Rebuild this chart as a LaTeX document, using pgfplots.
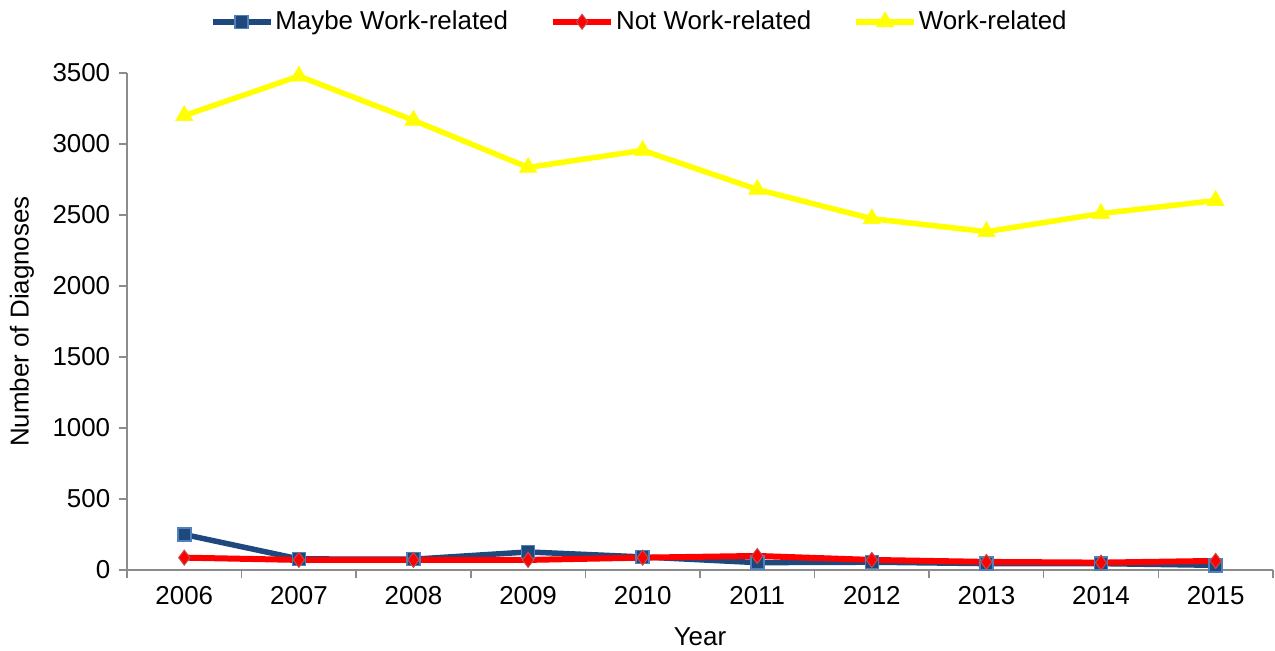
\documentclass[border=0pt]{standalone}
\usepackage{pgfplots}
\pgfplotsset{compat=1.18}
\usepackage{fontspec}
\setmainfont{Liberation Sans}
\definecolor{navy}{HTML}{1F497D}
\definecolor{navyedge}{HTML}{4F81BD}
\definecolor{redline}{HTML}{FF0000}
\definecolor{rededge}{HTML}{C0504D}
\definecolor{yel}{HTML}{FFFF00}
\definecolor{axgray}{HTML}{8C8C8C}
\begin{document}
\fontsize{26}{31}\selectfont
\begin{tikzpicture}
\useasboundingbox (0,0) rectangle (1275bp,651bp);
\begin{axis}[
  at={(127bp,81bp)}, anchor=south west,
  scale only axis, width=1146bp, height=497bp,
  xmin=-0.5, xmax=9.5, ymin=0, ymax=3500,
  xtick={0,...,9},
  xticklabels={2006,2007,2008,2009,2010,2011,2012,2013,2014,2015},
  major x tick style={draw=none},
  minor xtick={-0.5,0.5,...,9.5},
  ytick={0,500,...,3500},
  tick align=outside,
  xtick pos=bottom, ytick pos=left,
  major tick length=8bp, minor tick length=8bp,
  tick style={axgray, line width=1.5bp},
  axis x line*=bottom, axis y line*=left,
  axis line style={-, axgray, line width=1.5bp},
  font=\fontsize{26}{31}\selectfont,
  ticklabel style={font=\fontsize{26}{31}\selectfont},
  /pgf/number format/assume math mode=true,
  yticklabel style={/pgf/number format/1000 sep={}},
  xlabel={Year}, ylabel={Number of Diagnoses},
  xlabel style={at={(axis description cs:0.5,-0.135)}, anchor=center},
  ylabel style={at={(axis description cs:-0.0916,0.5)}, anchor=center},
  legend columns=3,
  legend style={at={(axis description cs:0.447,1.103)}, anchor=center, draw=none, fill=none,
    font=\fontsize{26}{31}\selectfont,
    /tikz/every even column/.append style={column sep=40bp},
    inner sep=0pt},
  legend image code/.code={\draw[mark repeat=2,mark phase=2] plot coordinates {(0bp,0bp)(29bp,0bp)(58bp,0bp)};},
]
\addplot[navy, line width=5.5bp, mark=square*, mark size=6.5bp, mark options={fill=navy, draw=navyedge, line width=1.5bp}]
  coordinates {(0,250)(1,78)(2,76)(3,127)(4,92)(5,52)(6,55)(7,45)(8,45)(9,33)};
\addlegendentry{Maybe Work-related}
\addplot[redline, line width=6bp, mark=diamond*, mark size=7.5bp, mark options={fill=redline, draw=rededge, line width=1bp}]
  coordinates {(0,87)(1,71)(2,71)(3,71)(4,87)(5,99)(6,71)(7,57)(8,52)(9,64)};
\addlegendentry{Not Work-related}
\addplot[yel, line width=5.5bp, mark=triangle*, mark size=10bp, mark options={fill=yel, draw=yel, line width=0.5bp}]
  coordinates {(0,3200)(1,3478)(2,3167)(3,2835)(4,2955)(5,2680)(6,2474)(7,2383)(8,2510)(9,2602)};
\addlegendentry{Work-related}
\end{axis}
\end{tikzpicture}
\end{document}
